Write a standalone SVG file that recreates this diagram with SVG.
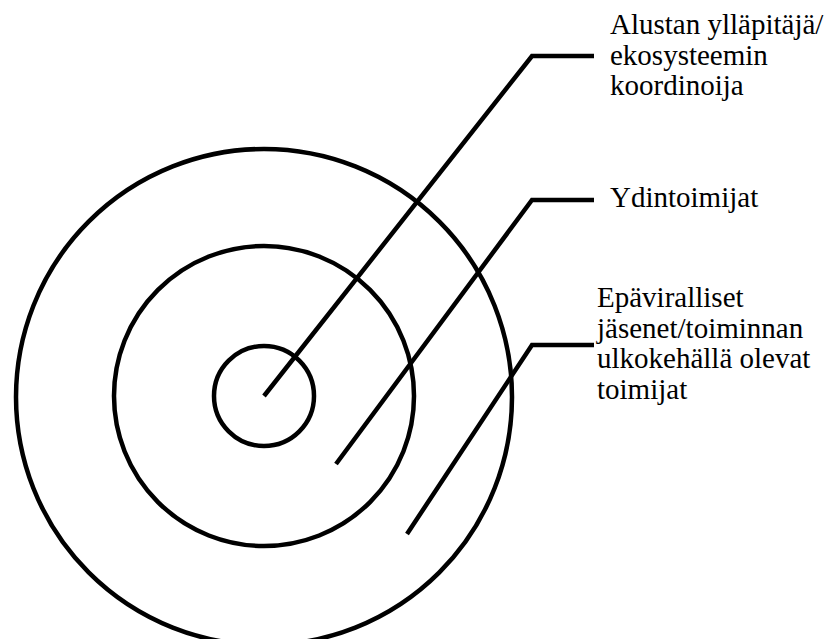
<svg xmlns="http://www.w3.org/2000/svg" width="835" height="639" viewBox="0 0 835 639">
<style>
.ring{fill:none;stroke:#000;stroke-width:4.5}
.conn{fill:none;stroke:#000;stroke-width:4.5;stroke-linejoin:miter}
.lbl{font-family:"Liberation Serif","Times New Roman",serif;font-size:29px;fill:#000}
</style>
<rect width="835" height="639" fill="#fff"/>
<g id="outer-ring"><circle class="ring" cx="264" cy="397" r="248"/></g>
<g id="middle-ring"><circle class="ring" cx="264" cy="396" r="150"/></g>
<g id="inner-ring"><circle class="ring" cx="264" cy="396" r="50"/></g>
<g id="connectors">
<polyline class="conn" points="264,396 532,56 594,56"/>
<polyline class="conn" points="336,464 532,200 594,200"/>
<polyline class="conn" points="407,534 532,345 594,345"/>
</g>
<g id="label-coordinator">
<text class="lbl" x="610" y="34">Alustan ylläpitäjä/</text>
<text class="lbl" x="610" y="64.5">ekosysteemin</text>
<text class="lbl" x="610" y="95">koordinoija</text>
</g>
<g id="label-core">
<text class="lbl" x="610" y="207">Ydintoimijat</text>
</g>
<g id="label-informal">
<text class="lbl" x="597" y="307">Epäviralliset</text>
<text class="lbl" x="597" y="337.5">jäsenet/toiminnan</text>
<text class="lbl" x="597" y="368">ulkokehällä olevat</text>
<text class="lbl" x="597" y="398.5">toimijat</text>
</g>
</svg>
